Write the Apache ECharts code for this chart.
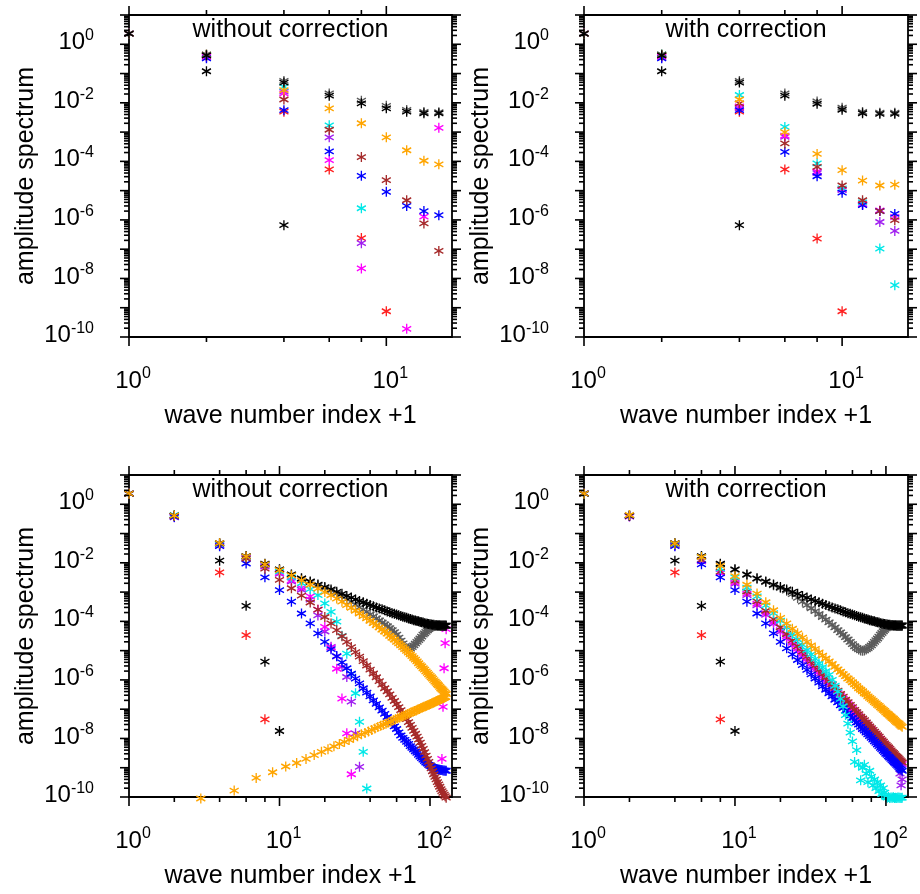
<!DOCTYPE html>
<html><head><meta charset="utf-8">
<script src="https://cdn.jsdelivr.net/npm/echarts@6.0.0/dist/echarts.min.js"></script>
<style>html,body{margin:0;padding:0;background:#fff}#c{width:920px;height:894px}</style>
</head><body><div id="c"></div><script>
// ---------- x positions ----------
const xTop = [1,2,4,6,8,10,12,14,16];
const xBot = [1,2,4,6,8,10,12,14,16,18,20,22,24,26,28,30,32,34,36,38,40,42,44,46,48,50,52,54,56,58,60,62,64,66,68,70,72,74,76,78,80,82,84,86,88,90,92,94,96,98,100,102,104,106,108,110,112,114,116,118,120,122,124,126,128];
const xOdd = [3,5,7,9,11,13,15,17,19,21,23,25,27,29,31,33,35,37,39,41,43,45,47,49,51,53,55,57,59,61,63,65,67,69,71,73,75,77,79,81,83,85,87,89,91,93,95,97,99,101,103,105,107,109,111,113,115,117,119,121,123,125,127];

// ---------- top-left : without correction (16 waves) ----------
const tlBlack   = [2.3,0.42,0.049,0.0175,0.0096,0.0065,0.0050,0.0044,0.0044];
const tlGray    = [2.3,0.45,0.056,0.021,0.0118,0.0079,0.0057,0.0049,0.0048];
const tlIso     = [2.3,0.12,6.6e-7];
const tlRed     = [2.3,0.40,0.0050,5.3e-5,2.4e-7,7.6e-10];
const tlOrange  = [2.3,0.44,0.027,0.0065,0.0020,6.6e-4,2.4e-4,1.05e-4,7.9e-5];
const tlCyan    = [2.3,0.43,0.035,1.7e-3,2.5e-6];
const tlBlue    = [2.3,0.33,0.0056,2.2e-4,3.2e-5,9.1e-6,3.0e-6,2.0e-6,1.45e-6];
const tlBrown   = [2.3,0.42,0.013,1.2e-3,1.4e-4,2.3e-5,4.7e-6,7.6e-7,8.7e-8];
const tlMagenta = [2.3,0.38,0.021,1.1e-4,2.2e-8,null,1.9e-10,1.3e-6,1.4e-3];
const tlPurple  = [2.3,0.35,0.024,6.6e-4,1.6e-7];

// ---------- top-right : with correction (16 waves) ----------
const trBlack   = [2.3,0.42,0.049,0.0175,0.0093,0.0058,0.0044,0.0042,0.0042];
const trGray    = [2.3,0.45,0.056,0.021,0.0112,0.0068,0.0049,0.0046,0.0046];
const trIso     = [2.3,0.12,6.6e-7];
const trRed     = [2.3,0.40,0.0050,5.3e-5,2.3e-7,7.6e-10];
const trOrange  = [2.3,0.44,0.013,1.0e-3,1.8e-4,5.0e-5,2.2e-5,1.5e-5,1.6e-5];
const trCyan    = [2.3,0.45,0.0185,1.5e-3,8.5e-5,1.2e-5,4.0e-6,1.05e-7,5.9e-9];
const trBlue    = [2.3,0.33,0.0056,2.1e-4,3.1e-5,8.5e-6,3.2e-6,2.0e-6,1.6e-6];
const trBrown   = [2.3,0.42,0.0096,4.1e-4,6.5e-5,1.5e-5,4.7e-6,2.0e-6,9.8e-7];
const trMagenta = [2.3,0.38,0.0075,7.5e-4,4.5e-5,1.1e-5,3.5e-6,2.1e-6,1.26e-6];
const trPurple  = [2.3,0.35,0.0065,6.9e-4,4.0e-5,1.05e-5,3.3e-6,8.5e-7,4.2e-7];

// ---------- bottom panels (128 waves) ----------
const bRed  = [2.3,0.40,4.7e-3,3.4e-5,4.5e-8];
const bIso  = [2.3,0.40,0.0118,3.4e-4,4.2e-6,1.8e-8];
const bBlack = [2.3,0.41,0.047,0.017,9.3e-3,6.0e-3,4.0e-3,2.95e-3,2.3e-3,1.8e-3,1.48e-3,1.23e-3,1.02e-3,8.7e-4,7.4e-4,6.5e-4,5.6e-4,5.0e-4,4.5e-4,4.0e-4,3.6e-4,3.3e-4,3.0e-4,2.75e-4,2.57e-4,2.4e-4,2.19e-4,2.04e-4,1.9e-4,1.82e-4,1.7e-4,1.62e-4,1.51e-4,1.45e-4,1.38e-4,1.32e-4,1.26e-4,1.2e-4,1.15e-4,1.1e-4,1.07e-4,1.02e-4,1.0e-4,9.5e-5,9.3e-5,9.1e-5,8.7e-5,8.5e-5,8.3e-5,8.1e-5,7.9e-5,7.8e-5,7.6e-5,7.6e-5,7.4e-5,7.4e-5,7.2e-5,7.2e-5,7.2e-5,7.1e-5,7.1e-5,7.1e-5,7.1e-5,7.1e-5,7.1e-5];

// bottom-left : without correction
const blGray = [2.3,0.40,0.046,0.0165,9.0e-3,5.8e-3,3.9e-3,2.85e-3,2.2e-3,1.7e-3,1.38e-3,1.12e-3,8.9e-4,7.1e-4,5.6e-4,4.6e-4,3.7e-4,3.0e-4,2.5e-4,2.1e-4,1.74e-4,1.48e-4,1.26e-4,1.07e-4,9.1e-5,7.9e-5,6.8e-5,5.9e-5,5.0e-5,4.3e-5,3.5e-5,2.8e-5,2.2e-5,1.78e-5,1.41e-5,1.2e-5,1.12e-5,1.17e-5,1.32e-5,1.51e-5,1.74e-5,2.0e-5,2.3e-5,2.6e-5,3.0e-5,3.5e-5,3.9e-5,4.4e-5,4.9e-5,5.4e-5,5.9e-5,6.3e-5,6.6e-5,6.9e-5,7.1e-5,7.2e-5,7.2e-5,7.2e-5,7.2e-5,7.2e-5,7.2e-5,7.2e-5,7.2e-5,7.2e-5,7.2e-5];
const blOrange = [2.3,0.41,0.047,0.0166,8.9e-3,5.6e-3,3.7e-3,2.5e-3,1.78e-3,1.32e-3,1.0e-3,7.8e-4,6.0e-4,4.7e-4,3.6e-4,2.9e-4,2.3e-4,1.86e-4,1.51e-4,1.26e-4,1.05e-4,8.7e-5,7.4e-5,6.2e-5,5.2e-5,4.5e-5,3.8e-5,3.2e-5,2.75e-5,2.4e-5,2.0e-5,1.78e-5,1.51e-5,1.32e-5,1.12e-5,9.8e-6,8.5e-6,7.4e-6,6.5e-6,5.6e-6,4.9e-6,4.3e-6,3.7e-6,3.2e-6,2.9e-6,2.5e-6,2.24e-6,1.95e-6,1.74e-6,1.55e-6,1.38e-6,1.23e-6,1.1e-6,9.8e-7,8.7e-7,7.9e-7,7.1e-7,6.5e-7,5.8e-7,5.2e-7,4.8e-7,4.4e-7,4.0e-7,3.6e-7,3.3e-7];
const blOrangeOdd = [8.9e-11,1.66e-10,4.5e-10,7.0e-10,1.1e-9,1.45e-9,2.0e-9,2.7e-9,3.5e-9,4.3e-9,5.4e-9,6.5e-9,7.6e-9,8.9e-9,1.05e-8,1.2e-8,1.38e-8,1.55e-8,1.74e-8,1.95e-8,2.2e-8,2.45e-8,2.7e-8,2.95e-8,3.2e-8,3.5e-8,3.8e-8,4.2e-8,4.5e-8,4.9e-8,5.2e-8,5.6e-8,6.0e-8,6.5e-8,6.8e-8,7.2e-8,7.8e-8,8.1e-8,8.7e-8,9.1e-8,9.8e-8,1.02e-7,1.1e-7,1.15e-7,1.2e-7,1.26e-7,1.32e-7,1.38e-7,1.45e-7,1.51e-7,1.58e-7,1.66e-7,1.74e-7,1.82e-7,1.9e-7,2.0e-7,2.05e-7,2.14e-7,2.24e-7,2.3e-7,2.4e-7,2.5e-7,2.6e-7];
const blBlue = [2.3,0.37,0.037,9.5e-3,3.2e-3,1.17e-3,4.7e-4,1.86e-4,8.5e-5,3.9e-5,2.0e-5,1.12e-5,6.5e-6,4.0e-6,2.5e-6,1.62e-6,1.1e-6,7.6e-7,5.2e-7,3.7e-7,2.75e-7,2.0e-7,1.51e-7,1.15e-7,8.9e-8,6.9e-8,5.4e-8,4.3e-8,3.2e-8,2.6e-8,2.1e-8,1.62e-8,1.26e-8,1.05e-8,8.9e-9,7.6e-9,6.5e-9,5.5e-9,4.8e-9,4.2e-9,3.6e-9,3.2e-9,2.75e-9,2.4e-9,2.14e-9,1.9e-9,1.7e-9,1.51e-9,1.38e-9,1.26e-9,1.17e-9,1.1e-9,1.02e-9,9.8e-10,9.3e-10,9.1e-10,8.9e-10,8.7e-10,8.5e-10,8.3e-10,8.3e-10,8.1e-10,8.1e-10,7.9e-10,7.9e-10];
const blBrown = [2.3,0.41,0.045,0.014,6.3e-3,2.6e-3,1.35e-3,7.6e-4,4.4e-4,2.5e-4,1.41e-4,8.5e-5,5.0e-5,3.1e-5,2.0e-5,1.32e-5,8.9e-6,6.2e-6,4.4e-6,3.1e-6,2.24e-6,1.66e-6,1.23e-6,9.1e-7,6.9e-7,5.2e-7,4.1e-7,3.2e-7,2.45e-7,1.9e-7,1.48e-7,1.17e-7,9.3e-8,7.2e-8,5.8e-8,4.6e-8,3.6e-8,2.9e-8,2.3e-8,1.82e-8,1.45e-8,1.15e-8,9.1e-9,7.2e-9,5.6e-9,4.4e-9,3.4e-9,2.6e-9,2.0e-9,1.58e-9,1.23e-9,9.5e-10,7.6e-10,6.0e-10,4.9e-10,4.0e-10,3.2e-10,2.7e-10,2.24e-10,1.86e-10,1.58e-10,1.38e-10,1.2e-10,1.07e-10,9.5e-11];
const blCyan = [2.3,0.43,0.043,0.016,8.5e-3,5.0e-3,3.2e-3,2.0e-3,1.26e-3,7.9e-4,4.1e-4,2.1e-4,9.8e-5,3.2e-5,7.9e-6,1.6e-6,3.5e-7,3.7e-8,3.5e-9,1.95e-10];
const blMagenta = [2.3,0.39,0.040,0.015,8.0e-3,4.5e-3,2.5e-3,1.4e-3,7.1e-4,2.5e-4,6.5e-5,1.26e-5,2.4e-6,2.3e-7,1.5e-8,6.0e-10,
  null,null,null,null,null,null,null,null,null,null,null,null,null,null,null,null,null,null,null,null,null,null,
  null,null,null,null,null,null,null,null,null,null,null,null,null,null,null,null,null,null,null,null,null,null,
  2.0e-9,1.2e-7,2.5e-6,1.8e-5,5.4e-5];
const blPurple = [2.3,0.36,0.039,0.0145,7.5e-3,4.2e-3,2.3e-3,1.2e-3,5.5e-4,1.6e-4,4.5e-5,1.35e-5,6.3e-6,2.8e-6,1.26e-6,1.8e-7,1.5e-8,1.07e-9];

// bottom-right : with correction
const brGray = [2.3,0.40,0.046,0.0165,9.0e-3,5.8e-3,3.9e-3,2.85e-3,2.2e-3,1.7e-3,1.38e-3,1.12e-3,8.5e-4,6.3e-4,4.7e-4,3.6e-4,2.8e-4,2.24e-4,1.78e-4,1.41e-4,1.15e-4,9.3e-5,7.6e-5,6.2e-5,5.0e-5,4.2e-5,3.5e-5,2.9e-5,2.4e-5,2.0e-5,1.66e-5,1.41e-5,1.23e-5,1.1e-5,1.02e-5,1.0e-5,1.02e-5,1.1e-5,1.2e-5,1.35e-5,1.51e-5,1.74e-5,2.0e-5,2.3e-5,2.6e-5,3.0e-5,3.5e-5,4.0e-5,4.6e-5,5.1e-5,5.8e-5,6.3e-5,6.8e-5,7.1e-5,7.4e-5,7.4e-5,7.4e-5,7.4e-5,7.4e-5,7.4e-5,7.4e-5,7.4e-5,7.4e-5,7.4e-5,7.4e-5];
const brOrange = [2.3,0.43,0.046,0.0158,7.9e-3,3.5e-3,1.78e-3,8.9e-4,4.5e-4,2.4e-4,1.32e-4,8.5e-5,5.6e-5,3.9e-5,2.8e-5,2.0e-5,1.51e-5,1.15e-5,8.7e-6,6.8e-6,5.4e-6,4.3e-6,3.5e-6,2.8e-6,2.3e-6,1.9e-6,1.58e-6,1.35e-6,1.12e-6,9.8e-7,8.3e-7,7.1e-7,6.2e-7,5.2e-7,4.6e-7,4.1e-7,3.5e-7,3.2e-7,2.75e-7,2.45e-7,2.2e-7,1.95e-7,1.74e-7,1.58e-7,1.41e-7,1.29e-7,1.15e-7,1.05e-7,9.5e-8,8.7e-8,7.8e-8,7.1e-8,6.6e-8,6.0e-8,5.5e-8,5.0e-8,4.7e-8,4.3e-8,3.9e-8,3.6e-8,3.4e-8,3.2e-8,2.9e-8,2.7e-8,2.5e-8];
const brBlue = [2.3,0.40,0.037,8.9e-3,3.2e-3,1.17e-3,4.7e-4,1.86e-4,8.5e-5,3.9e-5,2.0e-5,1.2e-5,7.4e-6,4.8e-6,3.2e-6,2.2e-6,1.55e-6,1.12e-6,8.1e-7,6.0e-7,4.6e-7,3.5e-7,2.75e-7,2.1e-7,1.7e-7,1.35e-7,1.1e-7,8.9e-8,7.2e-8,6.0e-8,5.0e-8,4.2e-8,3.5e-8,2.95e-8,2.5e-8,2.1e-8,1.86e-8,1.58e-8,1.38e-8,1.2e-8,1.05e-8,9.1e-9,7.9e-9,7.1e-9,6.2e-9,5.5e-9,4.8e-9,4.3e-9,3.8e-9,3.4e-9,3.0e-9,2.75e-9,2.45e-9,2.24e-9,2.0e-9,1.82e-9,1.66e-9,1.51e-9,1.38e-9,1.26e-9,1.15e-9,1.05e-9,9.5e-10,8.7e-10,7.9e-10];
const brPurple = [2.3,0.38,0.040,0.0112,4.5e-3,1.9e-3,7.9e-4,3.5e-4,1.66e-4,8.3e-5,4.4e-5,2.6e-5,1.55e-5,9.8e-6,6.6e-6,4.4e-6,3.0e-6,2.2e-6,1.55e-6,1.12e-6,8.5e-7,6.5e-7,5.0e-7,3.8e-7,3.0e-7,2.4e-7,1.9e-7,1.55e-7,1.26e-7,1.02e-7,8.5e-8,7.1e-8,5.8e-8,4.9e-8,4.2e-8,3.5e-8,3.0e-8,2.6e-8,2.2e-8,1.9e-8,1.66e-8,1.45e-8,1.23e-8,1.1e-8,9.5e-9,8.5e-9,7.2e-9,6.5e-9,5.8e-9,5.1e-9,4.5e-9,4.1e-9,3.6e-9,3.3e-9,2.95e-9,2.6e-9,2.4e-9,2.2e-9,2.0e-9,1.82e-9,1.62e-9,1.26e-9,6.3e-10,2.5e-10,4.0e-10];
const brBrown = [2.3,0.41,0.042,0.0126,5.0e-3,2.4e-3,1.05e-3,4.8e-4,2.3e-4,1.2e-4,6.3e-5,3.7e-5,2.24e-5,1.41e-5,9.3e-6,6.2e-6,4.4e-6,3.1e-6,2.2e-6,1.58e-6,1.2e-6,9.1e-7,7.1e-7,5.4e-7,4.3e-7,3.3e-7,2.7e-7,2.1e-7,1.74e-7,1.41e-7,1.17e-7,9.5e-8,7.9e-8,6.8e-8,5.6e-8,4.8e-8,4.2e-8,3.5e-8,3.0e-8,2.6e-8,2.24e-8,1.95e-8,1.7e-8,1.48e-8,1.29e-8,1.15e-8,9.8e-9,8.7e-9,7.8e-9,6.8e-9,6.0e-9,5.5e-9,4.9e-9,4.4e-9,3.9e-9,3.5e-9,3.2e-9,2.9e-9,2.6e-9,2.4e-9,2.2e-9,2.0e-9,1.82e-9,1.66e-9,1.51e-9];
const brMagenta = [2.3,0.39,0.040,0.012,4.5e-3,2.1e-3,8.9e-4,4.0e-4,1.9e-4,9.5e-5,5.0e-5,3.1e-5,1.86e-5,1.17e-5,7.8e-6,5.2e-6,3.6e-6,2.6e-6,1.86e-6,1.35e-6,1.02e-6,7.8e-7,6.0e-7,4.6e-7,3.6e-7,2.8e-7,2.3e-7,1.82e-7,1.48e-7,1.2e-7,1.0e-7,8.3e-8,6.8e-8,5.8e-8,4.9e-8,4.1e-8,3.5e-8,3.0e-8,2.6e-8,2.24e-8,1.95e-8,1.66e-8,1.45e-8,1.29e-8,1.12e-8,9.8e-9,8.5e-9,7.6e-9,6.8e-9,5.9e-9,5.2e-9,4.8e-9,4.3e-9,3.8e-9,3.4e-9,3.1e-9,2.8e-9,2.5e-9,2.3e-9,2.1e-9,1.9e-9,1.74e-9,1.58e-9,1.45e-9,1.32e-9];
const brCyan = [2.3,0.42,0.044,0.0158,6.3e-3,3.2e-3,1.41e-3,7.1e-4,3.5e-4,1.9e-4,1.05e-4,6.2e-5,3.7e-5,2.4e-5,1.58e-5,1.05e-5,7.4e-6,5.2e-6,3.7e-6,2.75e-6,2.0e-6,1.48e-6,1.0e-6,6.3e-7,4.0e-7,2.24e-7,1.26e-7,6.3e-8,3.2e-8,1.58e-8,7.9e-9,1.58e-9,4.0e-9,1.26e-9,3.7e-10,1.0e-9,1.26e-9,6.3e-10,3.2e-10,7.9e-10,5.0e-10,2.5e-10,4.0e-10,2.0e-10,3.2e-10,1.58e-10,2.5e-10,1.26e-10,2.0e-10,1.41e-10,1.0e-10,9.5e-11,1.0e-10,9.3e-11,9.6e-11,9.4e-11,9.8e-11,9.3e-11,9.5e-11,9.2e-11,9.6e-11,9.4e-11,9.5e-11,9.3e-11,9.5e-11];

// ---------- axis ticks / labels ----------
const Y_MIN = 1e-10, Y_MAX = 10;
const yMajor = [10,1,1e-1,1e-2,1e-3,1e-4,1e-5,1e-6,1e-7,1e-8,1e-9,1e-10];
const yLabels = [1,1e-2,1e-4,1e-6,1e-8,1e-10];
const yMinor = [];
for (let e = -10; e < 1; e++) for (let m = 2; m <= 9; m++) yMinor.push(+(m * Math.pow(10, e)).toPrecision(3));

const FONT = '"Liberation Sans", Arial, Helvetica, sans-serif';
const AST = 'path://M5 0L5 10M0.67 2.5L9.33 7.5M0.67 7.5L9.33 2.5';
const C = {black:'#000000', gray:'#5c5c5c', red:'#ff2020', orange:'#ffa500', cyan:'#00e8e8',
           blue:'#0000ff', brown:'#a52a2a', magenta:'#ff00ff', purple:'#a020f0'};

const panels = [
  {left:129, top:15, width:323, height:322, xMax:18, title:'without correction',
   xMajor:[1,10], xMinor:[2,4,6,8], xLabels:[1,10],
   series:[[xTop,tlIso,'black'],[xTop,tlRed,'red'],[xTop,tlPurple,'purple'],[xTop,tlMagenta,'magenta'],
           [xTop,tlCyan,'cyan'],[xTop,tlBlue,'blue'],[xTop,tlBrown,'brown'],[xTop,tlOrange,'orange'],
           [xTop,tlGray,'gray'],[xTop,tlBlack,'black']]},
  {left:584, top:15, width:324, height:322, xMax:18, title:'with correction',
   xMajor:[1,10], xMinor:[2,4,6,8], xLabels:[1,10],
   series:[[xTop,trIso,'black'],[xTop,trRed,'red'],[xTop,trPurple,'purple'],[xTop,trMagenta,'magenta'],
           [xTop,trCyan,'cyan'],[xTop,trBlue,'blue'],[xTop,trBrown,'brown'],[xTop,trOrange,'orange'],
           [xTop,trGray,'gray'],[xTop,trBlack,'black']]},
  {left:129, top:475, width:323, height:322, xMax:140, title:'without correction',
   xMajor:[1,10,100], xMinor:[2,4,6,8,20,40,60,80], xLabels:[1,10,100],
   series:[[xBot,bIso,'black'],[xBot,bRed,'red'],[xBot,blPurple,'purple'],[xBot,blMagenta,'magenta'],
           [xBot,blCyan,'cyan'],[xBot,blBlue,'blue'],[xBot,blBrown,'brown'],[xBot,blGray,'gray'],
           [xBot,bBlack,'black'],[xBot,blOrange,'orange'],[xOdd,blOrangeOdd,'orange']]},
  {left:584, top:475, width:324, height:322, xMax:140, title:'with correction',
   xMajor:[1,10,100], xMinor:[2,4,6,8,20,40,60,80], xLabels:[1,10,100],
   series:[[xBot,bIso,'black'],[xBot,bRed,'red'],[xBot,brPurple,'purple'],[xBot,brMagenta,'magenta'],
           [xBot,brBrown,'brown'],[xBot,brBlue,'blue'],[xBot,brCyan,'cyan'],[xBot,brGray,'gray'],
           [xBot,bBlack,'black'],[xBot,brOrange,'orange']]}
];

const RICH = {
  b: {fontSize: 24, fontFamily: FONT, color: '#000', verticalAlign: 'bottom'},
  s: {fontSize: 16, fontFamily: FONT, color: '#000', verticalAlign: 'bottom', padding: [0, 0, 11, 0]}
};

function scat(gi, xs, ys, col) {
  const data = [];
  for (let i = 0; i < ys.length; i++) if (ys[i] != null) data.push([xs[i], ys[i]]);
  const c = C[col];
  return {type: 'scatter', xAxisIndex: gi, yAxisIndex: gi, data: data, symbol: AST, symbolSize: [9, 10],
    clip: false, silent: true, animation: false, z: 3, emphasis: {disabled: true},
    itemStyle: {color: c, borderColor: c, borderWidth: 1.4, opacity: 1}};
}

function deco(gi, g) {
  const data = [];
  g.xMajor.forEach(v => data.push([v, Y_MIN, 0]));
  g.xMinor.forEach(v => data.push([v, Y_MIN, 1]));
  yMajor.forEach(v => data.push([1, v, 2]));
  yMinor.forEach(v => data.push([1, v, 3]));
  g.xLabels.forEach(v => data.push([v, Y_MIN, 4]));
  yLabels.forEach(v => data.push([1, v, 5]));
  return {
    type: 'custom', xAxisIndex: gi, yAxisIndex: gi, silent: true, animation: false, z: 6, clip: false,
    data: data,
    renderItem: function (params, api) {
      const xv = api.value(0), yv = api.value(1), k = api.value(2);
      const st = {stroke: '#000', lineWidth: 1.6};
      if (k === 0 || k === 1) {
        const L = k === 0 ? 9 : 5;
        const b = api.coord([xv, Y_MIN]), t = api.coord([xv, Y_MAX]);
        return {type: 'group', children: [
          {type: 'line', shape: {x1: b[0], y1: b[1], x2: b[0], y2: b[1] + L}, style: st},
          {type: 'line', shape: {x1: t[0], y1: t[1], x2: t[0], y2: t[1] - L}, style: st}]};
      }
      if (k === 2 || k === 3) {
        const L = k === 2 ? 9 : 5;
        const l = api.coord([1, yv]), r = api.coord([g.xMax, yv]);
        return {type: 'group', children: [
          {type: 'line', shape: {x1: l[0], y1: l[1], x2: l[0] - L, y2: l[1]}, style: st},
          {type: 'line', shape: {x1: r[0], y1: r[1], x2: r[0] + L, y2: r[1]}, style: st}]};
      }
      const e = Math.round(Math.log10(k === 4 ? xv : yv));
      const txt = '{b|10}{s|' + e + '}';
      if (k === 4) {
        const p = api.coord([xv, Y_MIN]);
        return {type: 'text', x: p[0] + 4, y: p[1] + 29,
          style: {text: txt, rich: RICH, fill: '#000', align: 'center', verticalAlign: 'top', textAlign: 'center', textVerticalAlign: 'top'}};
      }
      const p = api.coord([1, yv]);
      return {type: 'text', x: p[0] - 35, y: p[1] - 3,
        style: {text: txt, rich: RICH, fill: '#000', align: 'right', verticalAlign: 'middle', textAlign: 'right', textVerticalAlign: 'middle'}};
    }
  };
}

const option = {
  backgroundColor: '#fff',
  animation: false,
  grid: [], xAxis: [], yAxis: [], series: [], graphic: []
};
panels.forEach((g, gi) => {
  option.grid.push({left: g.left, top: g.top, width: g.width, height: g.height, show: true,
    borderColor: '#000', borderWidth: 1.8, backgroundColor: 'transparent', containLabel: false});
  option.xAxis.push({type: 'log', logBase: 10, gridIndex: gi, min: 1, max: g.xMax,
    axisLine: {show: false}, axisTick: {show: false}, axisLabel: {show: false}, splitLine: {show: false},
    name: 'wave number index +1', nameLocation: 'middle', nameGap: 67,
    nameTextStyle: {fontSize: 25, fontFamily: FONT, color: '#000'}});
  option.yAxis.push({type: 'log', logBase: 10, gridIndex: gi, min: Y_MIN, max: Y_MAX,
    axisLine: {show: false}, axisTick: {show: false}, axisLabel: {show: false}, splitLine: {show: false},
    name: 'amplitude spectrum', nameLocation: 'middle', nameGap: 90, nameRotate: 90,
    nameTextStyle: {fontSize: 25, fontFamily: FONT, color: '#000'}});
  g.series.forEach(s => option.series.push(scat(gi, s[0], s[1], s[2])));
  option.series.push(deco(gi, g));
  option.graphic.push({type: 'text', x: g.left + g.width / 2, y: g.top + 15, z: 10,
    style: {text: g.title, fill: '#000', font: '25px ' + FONT, align: 'center', verticalAlign: 'middle',
      textAlign: 'center', textVerticalAlign: 'middle'}});
});

const chart = echarts.init(document.getElementById('c'), null, {renderer: 'canvas'});
chart.setOption(option);
</script></body></html>
